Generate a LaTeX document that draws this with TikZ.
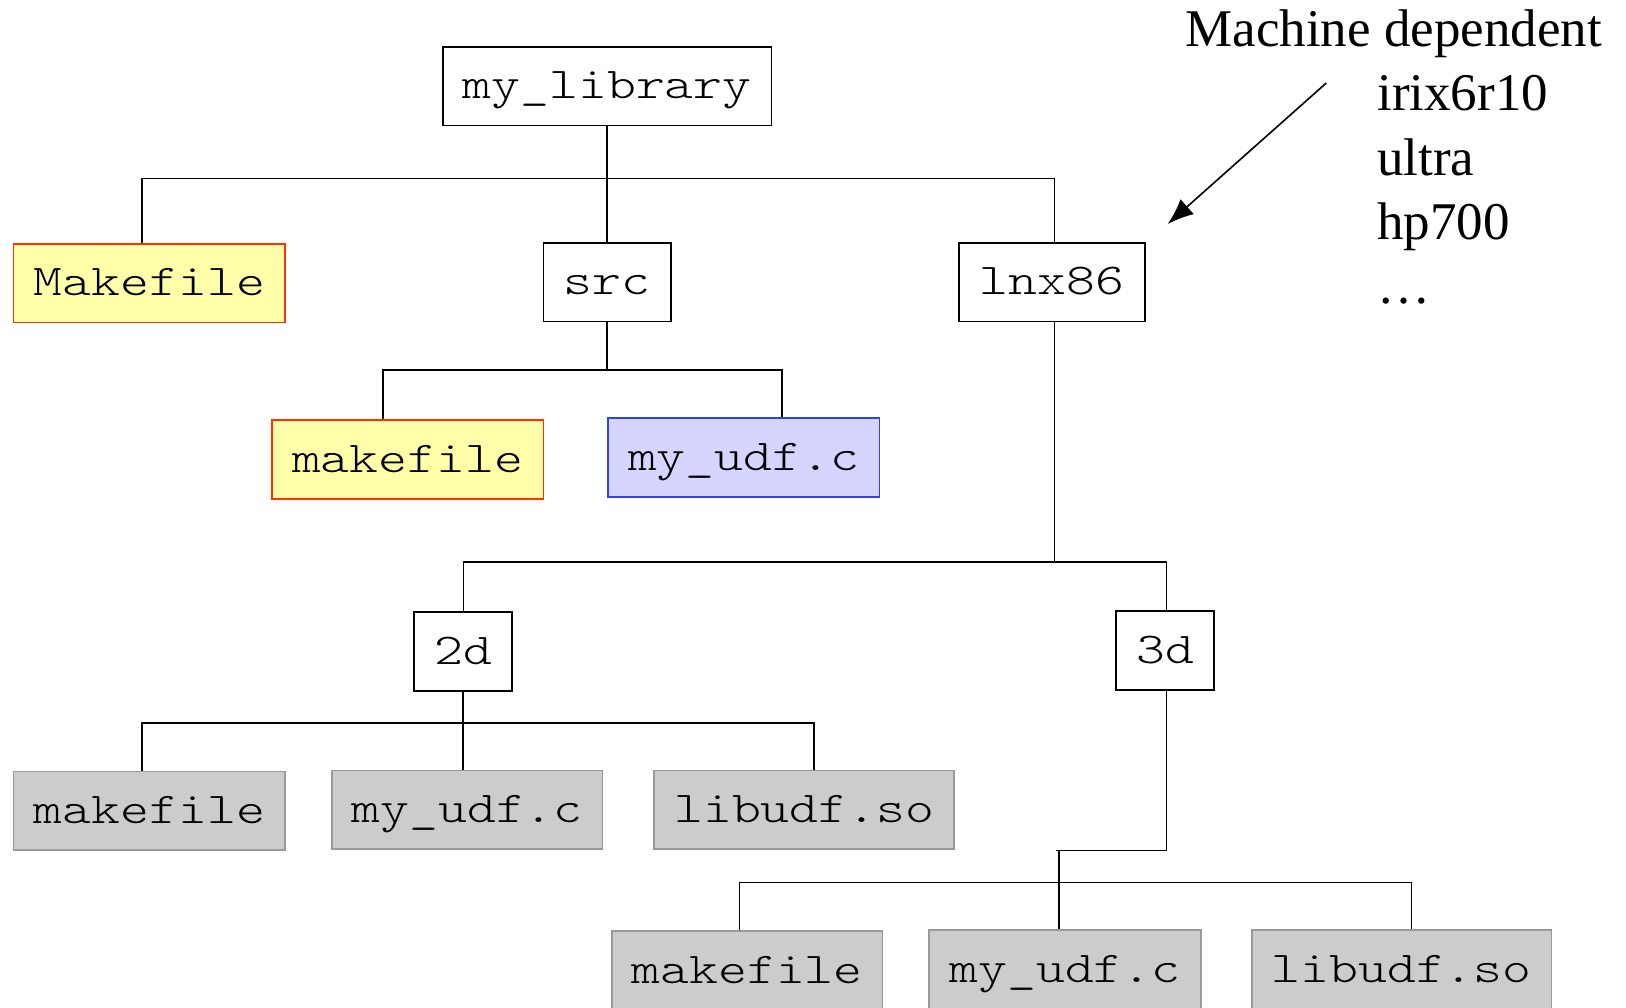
\documentclass[tikz,border=0pt]{standalone}
\usepackage{fontspec}
\setmainfont{Liberation Serif}
\newfontfamily\boxfont{lmmonolt10-regular}[Extension=.otf, FakeStretch=1.25]
\usetikzlibrary{arrows.meta}
\definecolor{yfill}{HTML}{FFFFAA}
\definecolor{yline}{HTML}{FF3300}
\definecolor{bfill}{HTML}{D5D5FF}
\definecolor{bline}{HTML}{3344DD}
\definecolor{gfill}{HTML}{CCCCCC}
\definecolor{gline}{HTML}{999999}
\tikzset{
  box/.style={draw=black, line width=1.8pt, inner sep=0pt, minimum height=78.8pt,
    text height=30pt, text depth=4.4pt, font=\fontsize{44}{44}\selectfont\boxfont},
  ybox/.style={box, draw=yline, fill=yfill},
  bbox/.style={box, draw=bline, fill=bfill},
  gbox/.style={box, draw=gline, fill=gfill},
  conn/.style={line width=1.6pt, black},
  lbl/.style={inner sep=0pt, font=\fontsize{53}{64}\selectfont},
}
\begin{document}
\begin{tikzpicture}[x=1pt,y=-1pt]
\useasboundingbox[fill=white] (0,0) rectangle (1626,1008);

% nodes
\node[box,  minimum width=328.7pt] (lib)  at (607.2,86.1)  {my\_library};
\node[ybox, minimum width=271.7pt] (Make) at (149.4,283.1) {Makefile};
\node[box,  minimum width=127.5pt] (src)  at (607.2,282.1) {src};
\node[box,  minimum width=185.6pt] (lnx)  at (1052,282.1)  {lnx86};
\node[ybox, minimum width=271.7pt] (mk1)  at (407.6,459.4) {makefile};
\node[bbox, minimum width=271.7pt] (udf1) at (743.6,457.3) {my\_udf.c};
\node[box,  minimum width=98.5pt]  (d2)   at (463,651.2)   {2d};
\node[box,  minimum width=98.5pt]  (d3)   at (1165,650.2)  {3d};
\node[gbox, minimum width=271.7pt] (gm1)  at (149.4,810.9) {makefile};
\node[gbox, minimum width=270.7pt] (gu1)  at (467.2,809.9) {my\_udf.c};
\node[gbox, minimum width=299.7pt] (gl1)  at (804.2,809.9) {libudf.so};
\node[gbox, minimum width=270.7pt] (gm2)  at (747.2,970.6) {makefile};
\node[gbox, minimum width=271.6pt] (gu2)  at (1065,969.6)  {my\_udf.c};
\node[gbox, minimum width=299.7pt] (gl2)  at (1401.6,969.6) {libudf.so};

% bus coordinates
\coordinate (b1l) at (142.1,178.4);
\coordinate (b1r) at (1054.6,178.4);
\coordinate (b2l) at (382.7,370.2);
\coordinate (b2r) at (781.9,370.2);
\coordinate (b3l) at (463.5,562.1);
\coordinate (b3r) at (1166.6,562.1);
\coordinate (b4l) at (142.1,722.8);
\coordinate (b4r) at (814,722.8);
\coordinate (j3)  at (1058.8,850.3);
\coordinate (b5l) at (739.4,882.5);
\coordinate (b5r) at (1411.4,882.5);

% connectors
\draw[conn] (lib.south) -- (src.north);
\draw[conn] (Make.north -| b1l) -- (b1l) -- (b1r) -- (b1r |- lnx.north);
\draw[conn] (src.south) -- (src.south |- b2l);
\draw[conn] (mk1.north -| b2l) -- (b2l) -- (b2r) -- (b2r |- udf1.north);
\draw[conn] (b1r |- lnx.south) -- (b1r |- b3l);
\draw[conn] (d2.north -| b3l) -- (b3l) -- (b3r) -- (b3r |- d3.north);
\draw[conn] (d2.south) -- (d2.south |- gu1.north);
\draw[conn] (gm1.north -| b4l) -- (b4l) -- (b4r) -- (b4r |- gl1.north);
\draw[conn] (d3.south -| b3r) -- (b3r |- j3) -- ([xshift=-3pt]j3);
\draw[conn] (j3) -- (j3 |- gu2.north);
\draw[conn] (gm2.north -| b5l) -- (b5l) -- (b5r) -- (b5r |- gl2.north);

% labels
\node[lbl, anchor=base west] (md) at (1185.3,46.7) {Machine dependent};
\node[lbl, anchor=base west] (t1) at (1377.1,111) {irix6r10};
\node[lbl, anchor=base west] (t2) at (1377.1,175.3) {ultra};
\node[lbl, anchor=base west] (t3) at (1377.1,239.6) {hp700};
\node[lbl, anchor=base west] (t4) at (1377.1,303.9) {…};

\coordinate (as) at (1326.3,83);
\coordinate (ae) at (1167.7,224);
\draw[conn, -{Latex[length=26pt,width=20pt]}] (as) -- (ae);
\end{tikzpicture}
\end{document}
